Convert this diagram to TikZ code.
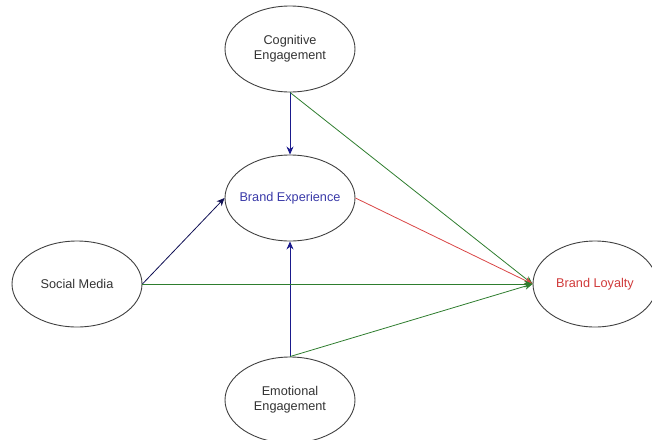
\documentclass[tikz,border=0pt]{standalone}
\usepackage{fontspec}
\setmainfont{Liberation Sans}
\usetikzlibrary{shapes.geometric,arrows.meta}
\definecolor{navy}{HTML}{1A1A8C}
\definecolor{dgreen}{HTML}{2E7D2E}
\definecolor{lred}{HTML}{D94545}
\definecolor{txt}{HTML}{333333}
\definecolor{btxt}{HTML}{3A3AA8}
\definecolor{rtxt}{HTML}{D03A3A}
\begin{document}
\begin{tikzpicture}[x=1pt,y=-1pt,
  oval/.style={ellipse,draw=black!75,line width=0.9pt,minimum width=130pt,minimum height=86pt,inner sep=0pt,align=center,font=\fontsize{12.7}{15}\selectfont,text=txt},
  conn/.style={line width=0.8pt,-{Stealth[length=8pt,width=7pt]}}]
\useasboundingbox (0,0) rectangle (652,439);
\node[oval] (cog) at (290,49) {Cognitive\\Engagement};
\node[oval,text=btxt] (be) at (290,198) {\makebox[0pt][c]{Brand Experience}};
\node[oval] (sm) at (77,284) {\makebox[0pt][c]{Social Media}};
\node[oval] (emo) at (290,400) {Emotional\\Engagement};
\node[oval,text=rtxt,minimum width=124pt] (bl) at (595,284) {\makebox[0pt][c]{Brand Loyalty}};
\draw[conn,navy] (cog.south) -- (be.north);
\draw[conn,navy] (emo.north) -- (be.south);
\draw[conn,navy!60!black] (sm.east) -- (be.west);
\draw[conn,dgreen] (cog.south) -- (bl.west);
\draw[conn,lred] (be.east) -- (bl.west);
\draw[conn,dgreen] (sm.east) -- (bl.west);
\draw[conn,dgreen] (emo.north) -- (bl.west);
\end{tikzpicture}
\end{document}
